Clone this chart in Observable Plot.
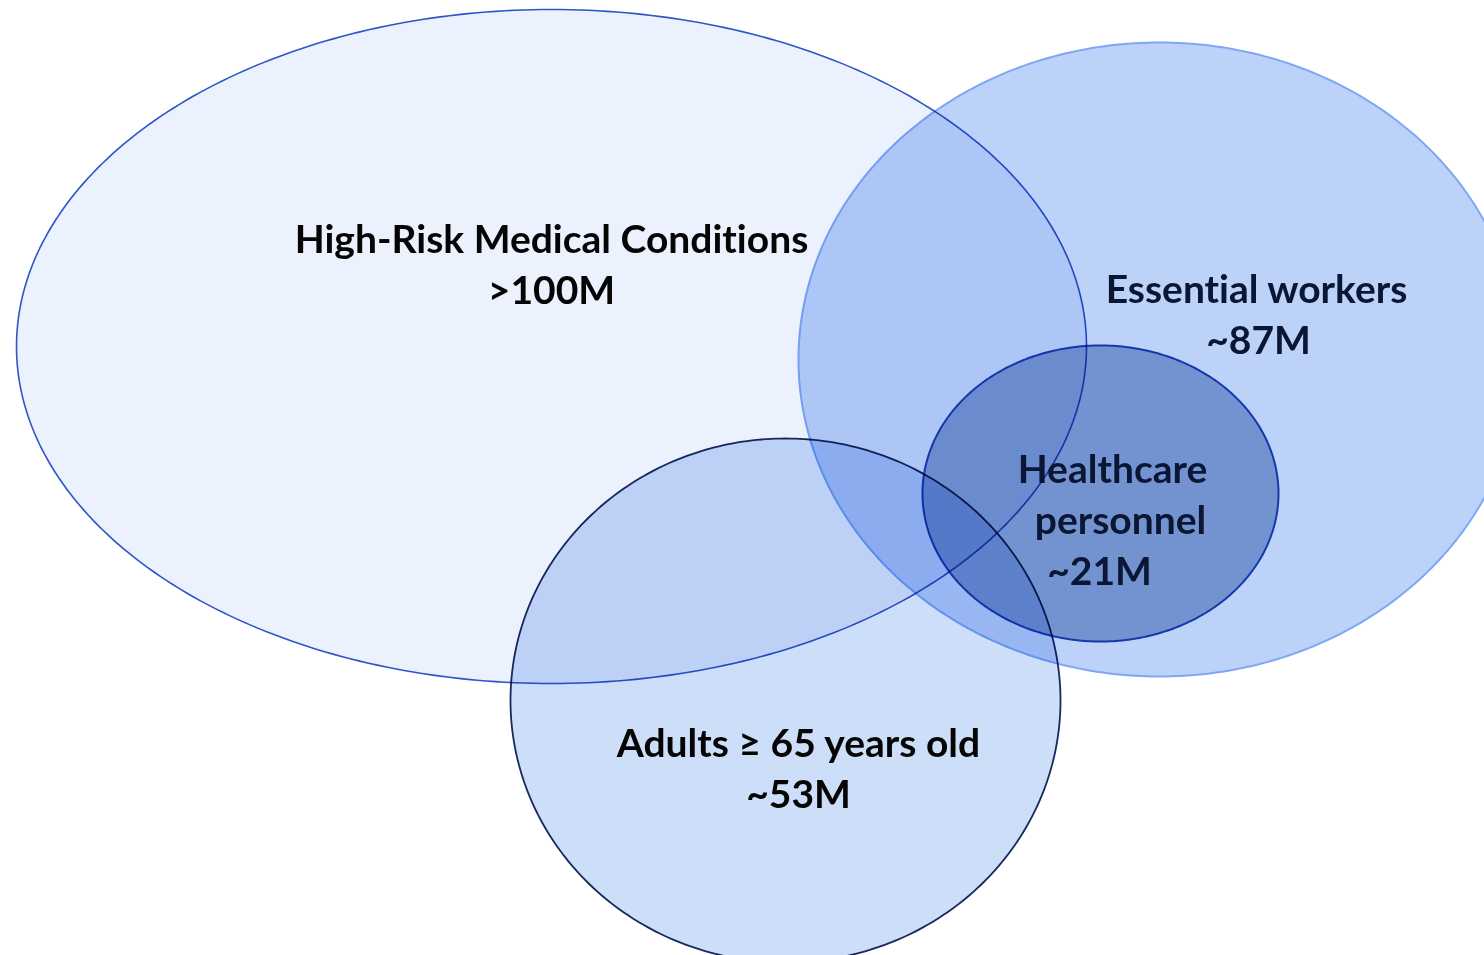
<!DOCTYPE html>
<html>
<head>
<meta charset="utf-8">
<script src="https://cdn.jsdelivr.net/npm/d3@7"></script>
<script src="https://cdn.jsdelivr.net/npm/@observablehq/plot@0.6"></script>
<style>
  html, body { margin: 0; padding: 0; background: #ffffff; }
  #chart { width: 1484px; height: 955px; overflow: hidden; }
  #chart svg text { font-variant-ligatures: none; font-feature-settings: "liga" 0, "clig" 0; }
</style>
</head>
<body>
<div id="chart"></div>
<script>
// Sets (drawn bottom to top)
const sets = ["High-Risk Medical Conditions", "Essential workers", "Adults ≥ 65 years old", "Healthcare personnel"];
const sizes = [">100M", "~87M", "~53M", "~21M"];
// Ellipse geometry in diagram units (x right, y down)
const centerX = [551, 1159, 785, 1100];
const centerY = [346, 359, 700, 493];
const radiusX = [535, 361, 275, 178];
const radiusY = [337, 317, 262, 148];
const fills   = ["#ebf1fd", "#bdd2f8", "#cddef9", "#9bb3d6"];
const strokes = ["#2f55c6", "#7ea7f5", "#18295e", "#1c44b2"];
const strokeW = [1.6, 2, 1.8, 2];

// Label lines
const labelText = ["High-Risk Medical Conditions", ">100M", "Essential workers", "~87M",
                   "Healthcare", "personnel", "~21M", "Adults ≥ 65 years old", "~53M"];
const labelX = [551, 551, 1256, 1258, 1112, 1120, 1099, 798, 798];
const labelY = [240, 291, 290, 341, 470, 521, 572, 744, 795];
const labelColor = ["#050505", "#050505", "#0a1634", "#0a1634", "#0a1634", "#0a1634", "#0a1634", "#050505", "#050505"];

// Outline points for each ellipse
const outline = [];
sets.forEach((s, i) => {
  for (let a = 0; a < 360; a += 1) {
    const t = a * Math.PI / 180;
    outline.push({set: s, x: centerX[i] + radiusX[i] * Math.cos(t), y: centerY[i] + radiusY[i] * Math.sin(t)});
  }
});
const labels = labelText.map((t, i) => ({text: t, x: labelX[i], y: labelY[i], color: labelColor[i]}));

const marks = sets.map((s, i) => Plot.line(outline.filter(d => d.set === s), {
  x: "x", y: "y", curve: "linear-closed",
  fill: fills[i], stroke: strokes[i], strokeWidth: strokeW[i],
  mixBlendMode: "multiply"
}));
marks.push(Plot.text(labels, {
  x: "x", y: "y", text: "text", fill: "color",
  fontSize: 39, fontWeight: 700, fontFamily: "Lato", textAnchor: "middle", lineAnchor: "middle"
}));

const chart = Plot.plot({
  width: 1484, height: 955,
  margin: 0,
  x: {domain: [0, 1484], range: [0, 1484], axis: null},
  y: {domain: [0, 955], range: [0, 955], axis: null},
  style: {background: "#ffffff", overflow: "hidden"},
  marks
});
document.getElementById("chart").appendChild(chart);
</script>
</body>
</html>
